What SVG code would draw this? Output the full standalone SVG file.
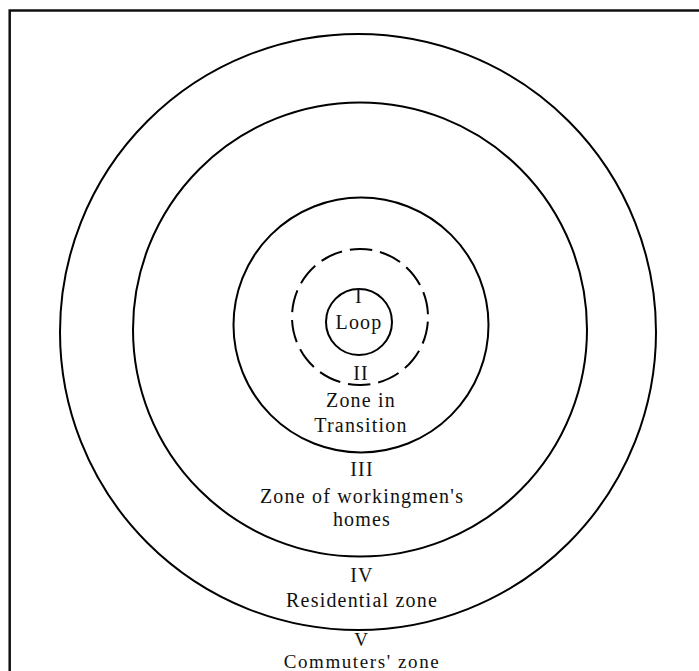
<svg xmlns="http://www.w3.org/2000/svg" width="699" height="671" viewBox="0 0 699 671">
<style>
.ring{fill:none;stroke:#000;stroke-width:2}
.dash{stroke-dasharray:22.5 8;stroke-dashoffset:25.8}
text{font-family:"Liberation Serif","Times New Roman",serif;font-size:20px;letter-spacing:1.2px;fill:#111;text-anchor:middle}
.tight{font-size:19px;letter-spacing:1.6px}
</style>
<rect width="699" height="671" fill="#fff"/>
<path d="M9.7 671 V10.5 H699" fill="none" stroke="#111" stroke-width="2.5"/>
<g id="zone-V">
<circle class="ring" cx="358" cy="332" r="298"/>
<text class="tight" x="362" y="646">V</text>
<text class="tight" x="362" y="667.5">Commuters' zone</text>
</g>
<g id="zone-IV">
<circle class="ring" cx="360" cy="329.5" r="227"/>
<text x="362" y="581.5">IV</text>
<text x="362" y="606.5">Residential zone</text>
</g>
<g id="zone-III">
<circle class="ring" cx="361" cy="325" r="127.5"/>
<text x="362" y="476">III</text>
<text x="362" y="502.5">Zone of workingmen's</text>
<text x="362" y="526">homes</text>
</g>
<g id="zone-II">
<circle class="ring dash" cx="360" cy="317" r="68"/>
<text x="361" y="380">II</text>
<text x="361" y="406.5">Zone in</text>
<text x="361" y="431.5">Transition</text>
</g>
<g id="zone-I">
<circle class="ring" cx="359" cy="322" r="33"/>
<text x="359" y="303">I</text>
<text x="359" y="329">Loop</text>
</g>
</svg>
